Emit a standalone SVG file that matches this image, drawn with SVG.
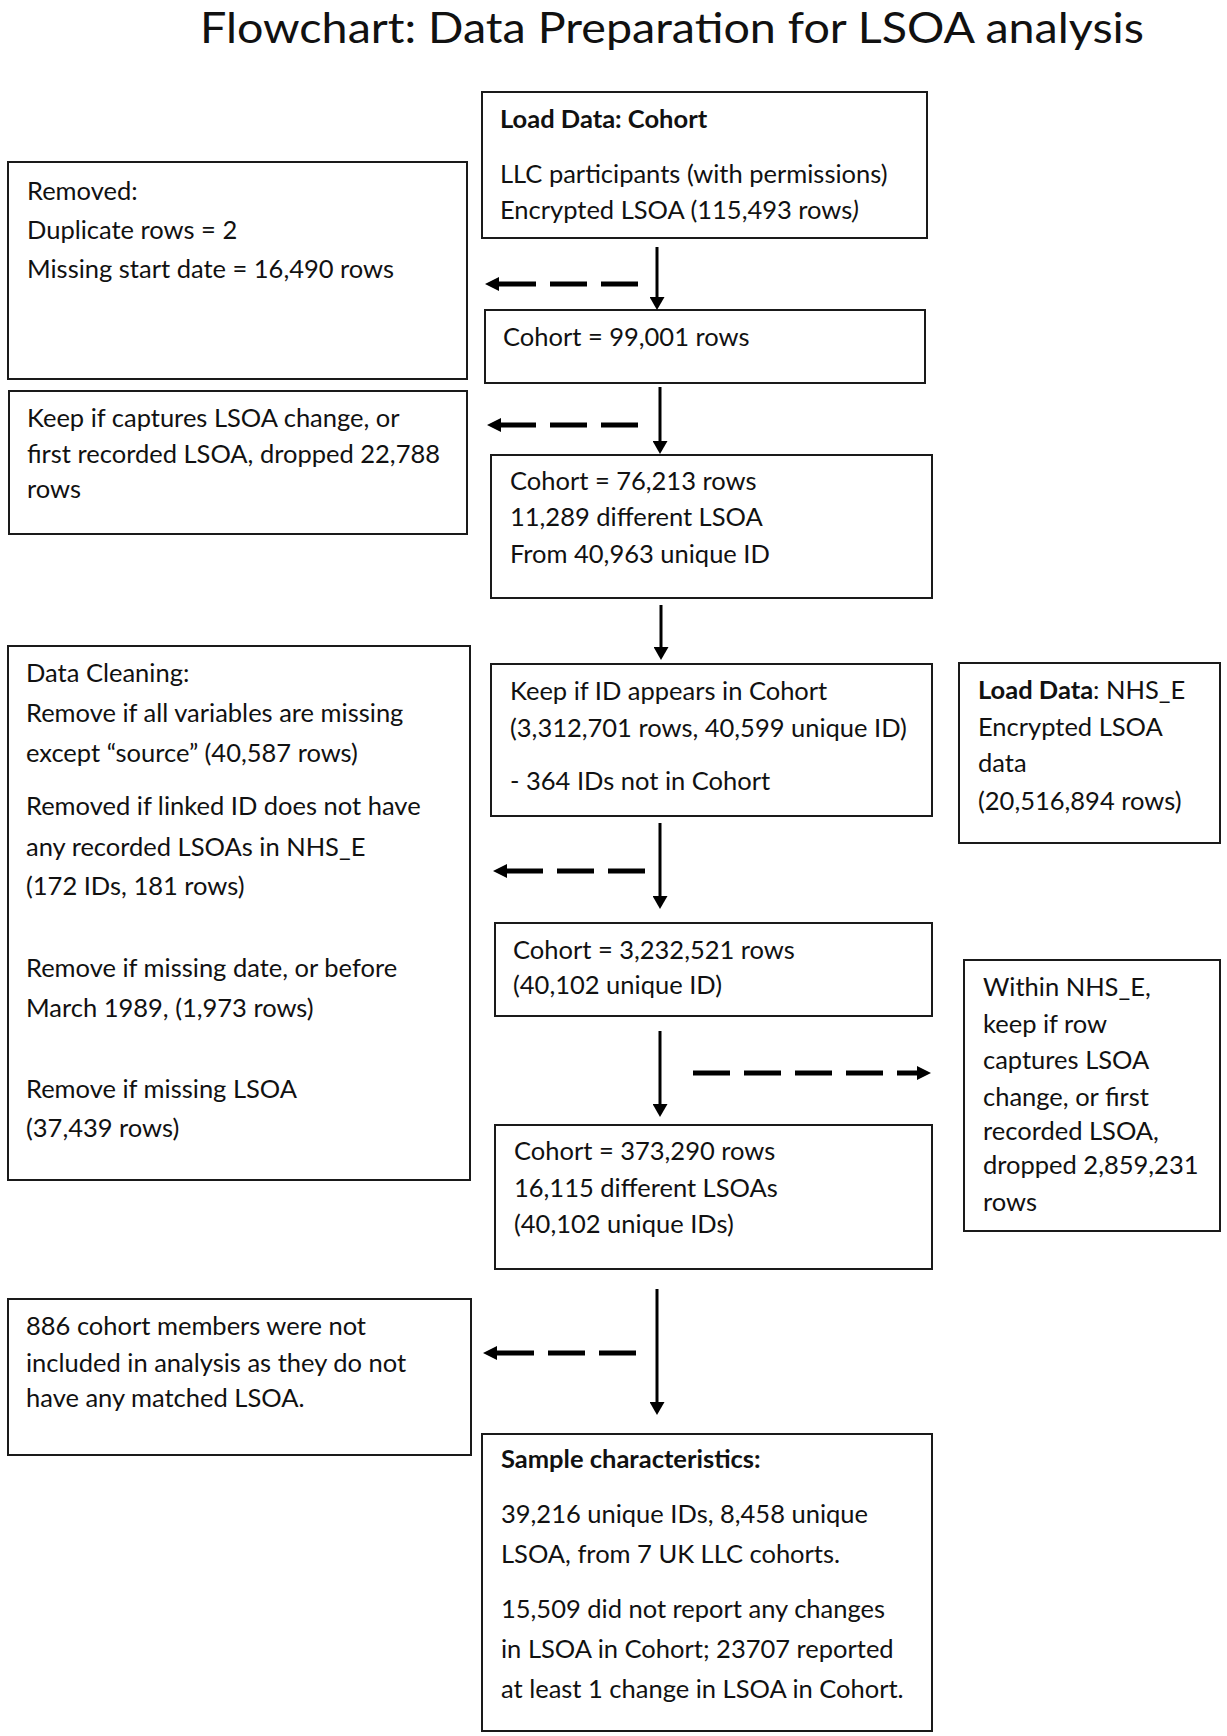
<svg xmlns="http://www.w3.org/2000/svg" width="1227" height="1736" viewBox="0 0 1227 1736">
<style>
text{font-family:Lato,"Liberation Sans",sans-serif;font-size:25.5px;fill:#111}
.title{font-size:42px}
.b{font-weight:bold}
.box{fill:#fff;stroke:#1a1a1a;stroke-width:2}
.solid{stroke:#000;stroke-width:3;fill:none}
.dash{stroke:#000;stroke-width:5;fill:none;stroke-dasharray:37 14}
</style>
<defs>
<marker id="hs" markerUnits="userSpaceOnUse" markerWidth="13" markerHeight="15" refX="0" refY="7.5" orient="auto" viewBox="0 0 13 15"><path d="M0,0 L13,7.5 L0,15 z" fill="#000"/></marker>
<marker id="hd" markerUnits="userSpaceOnUse" markerWidth="14" markerHeight="14" refX="0" refY="7" orient="auto" viewBox="0 0 14 14"><path d="M0,0 L14,7 L0,14 z" fill="#000"/></marker>
</defs>
<rect width="1227" height="1736" fill="#fff"/>
<text class="title" x="200" y="43" textLength="944" lengthAdjust="spacingAndGlyphs">Flowchart: Data Preparation for LSOA analysis</text>

<g id="nodeA"><rect class="box" x="482" y="92" width="445" height="146"/>
<text x="500" y="128" class="b">Load Data: Cohort</text>
<text x="500" y="183">LLC participants (with permissions)</text>
<text x="500" y="219">Encrypted LSOA (115,493 rows<tspan font-style="italic">)</tspan></text></g>

<g id="nodeB"><rect class="box" x="8" y="162" width="459" height="217"/>
<text x="27" y="200">Removed:</text>
<text x="27" y="239">Duplicate rows = 2</text>
<text x="27" y="278">Missing start date = 16,490 rows</text></g>

<g id="nodeC"><rect class="box" x="485" y="310" width="440" height="73"/>
<text x="503" y="346">Cohort = 99,001 rows</text></g>

<g id="nodeD"><rect class="box" x="9" y="391" width="458" height="143"/>
<text x="27" y="427">Keep if captures LSOA change, or</text>
<text x="27" y="463">first recorded LSOA, dropped 22,788</text>
<text x="27" y="498">rows</text></g>

<g id="nodeE"><rect class="box" x="491" y="455" width="441" height="143"/>
<text x="510" y="490">Cohort = 76,213 rows</text>
<text x="510" y="526">11,289 different LSOA</text>
<text x="510" y="563">From 40,963 unique ID</text></g>

<g id="nodeF"><rect class="box" x="8" y="646" width="462" height="534"/>
<text x="26" y="682">Data Cleaning:</text>
<text x="26" y="722">Remove if all variables are missing</text>
<text x="26" y="762">except “source” (40,587 rows)</text>
<text x="26" y="815">Removed if linked ID does not have</text>
<text x="26" y="856">any recorded LSOAs in NHS_E</text>
<text x="26" y="895">(172 IDs, 181 rows)</text>
<text x="26" y="977">Remove if missing date, or before</text>
<text x="26" y="1017">March 1989, (1,973 rows)</text>
<text x="26" y="1098">Remove if missing LSOA</text>
<text x="26" y="1137">(37,439 rows)</text></g>

<g id="nodeG"><rect class="box" x="491" y="664" width="441" height="152"/>
<text x="510" y="700">Keep if ID appears in Cohort</text>
<text x="510" y="737">(3,312,701 rows, 40,599 unique ID)</text>
<text x="510" y="790">- 364 IDs not in Cohort</text></g>

<g id="nodeH"><rect class="box" x="959" y="663" width="261" height="180"/>
<text x="978" y="699"><tspan class="b">Load Data</tspan>: NHS_E</text>
<text x="978" y="736">Encrypted LSOA</text>
<text x="978" y="772">data</text>
<text x="978" y="810">(20,516,894 rows)</text></g>

<g id="nodeI"><rect class="box" x="495" y="923" width="437" height="93"/>
<text x="513" y="959">Cohort = 3,232,521 rows</text>
<text x="513" y="994">(40,102 unique ID)</text></g>

<g id="nodeJ"><rect class="box" x="964" y="960" width="256" height="271"/>
<text x="983" y="996">Within NHS_E,</text>
<text x="983" y="1033">keep if row</text>
<text x="983" y="1069">captures LSOA</text>
<text x="983" y="1106">change, or first</text>
<text x="983" y="1140">recorded LSOA,</text>
<text x="983" y="1174">dropped 2,859,231</text>
<text x="983" y="1211">rows</text></g>

<g id="nodeK"><rect class="box" x="495" y="1125" width="437" height="144"/>
<text x="514" y="1160">Cohort = 373,290 rows</text>
<text x="514" y="1197">16,115 different LSOAs</text>
<text x="514" y="1233">(40,102 unique IDs)</text></g>

<g id="nodeL"><rect class="box" x="8" y="1299" width="463" height="156"/>
<text x="26" y="1335">886 cohort members were not</text>
<text x="26" y="1372">included in analysis as they do not</text>
<text x="26" y="1407">have any matched LSOA.</text></g>

<g id="nodeM"><rect class="box" x="482" y="1434" width="450" height="297"/>
<text x="501" y="1468" class="b">Sample characteristics:</text>
<text x="501" y="1523">39,216 unique IDs, 8,458 unique</text>
<text x="501" y="1563">LSOA, from 7 UK LLC cohorts.</text>
<text x="501" y="1618">15,509 did not report any changes</text>
<text x="501" y="1658">in LSOA in Cohort; 23707 reported</text>
<text x="501" y="1698">at least 1 change in LSOA in Cohort.</text></g>

<g id="connectors">
<path class="solid" d="M657,247 V297" marker-end="url(#hs)"/>
<path class="solid" d="M660,387 V441" marker-end="url(#hs)"/>
<path class="solid" d="M661,605 V647" marker-end="url(#hs)"/>
<path class="solid" d="M660,823 V896" marker-end="url(#hs)"/>
<path class="solid" d="M660,1031 V1104" marker-end="url(#hs)"/>
<path class="solid" d="M657,1289 V1402" marker-end="url(#hs)"/>
<path class="dash" d="M638,284 H499" marker-end="url(#hd)"/>
<path class="dash" d="M638,425 H501" marker-end="url(#hd)"/>
<path class="dash" d="M645,871 H507" marker-end="url(#hd)"/>
<path class="dash" d="M693,1073 H917" marker-end="url(#hd)"/>
<path class="dash" d="M636,1353 H497" marker-end="url(#hd)"/>
</g>
</svg>
